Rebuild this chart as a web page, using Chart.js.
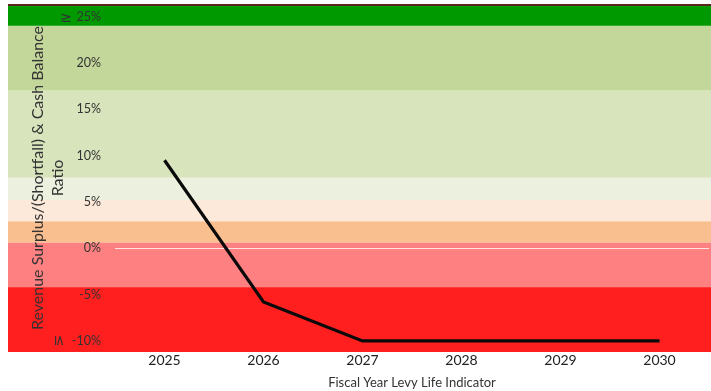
<!DOCTYPE html>
<html>
<head>
<meta charset="utf-8">
<script src="https://cdn.jsdelivr.net/npm/chart.js@4/dist/chart.umd.min.js"></script>
<style>
  html, body { margin: 0; padding: 0; background: #ffffff; }
  #wrap { width: 711px; height: 391px; }
</style>
</head>
<body>
<div id="wrap"><canvas id="c" width="711" height="391"></canvas></div>
<script>
// Fiscal years on the category axis
const years = ['2025', '2026', '2027', '2028', '2029', '2030'];
// Revenue surplus/(shortfall) & cash balance ratio, percent
const ratio = [9.5, -5.8, -10, -10, -10, -10];
// Tick values shown on the ratio axis
const yTicks = [25, 20, 15, 10, 5, 0, -5, -10];
// Rating bands: lower and upper bound (percent) with fill colour
const bandLow   = [26.14, 24.0, 17.0, 7.6, 5.2, 2.9, 0.6, -4.2, -11.2];
const bandHigh  = [26.36, 26.14, 24.0, 17.0, 7.6, 5.2, 2.9, 0.6, -4.2];
const bandColor = ['#5a261b', '#009a00', '#c4d79b', '#d8e4bc', '#ebf1de', '#fde9d9', '#fabf8f', '#ff8080', '#ff1f1f'];
const axisMin = -11.2;
const axisMax = 26.36;

const FONT = 'Lato, "Open Sans", "DejaVu Sans", sans-serif';

// Coloured bands run the full width behind the axis labels
const bandsPlugin = {
  id: 'bands',
  beforeDraw(chart) {
    const { ctx } = chart;
    const y = chart.scales.y;
    ctx.save();
    for (let i = 0; i < bandLow.length; i++) {
      const top = y.getPixelForValue(bandHigh[i]);
      const bot = y.getPixelForValue(bandLow[i]);
      ctx.fillStyle = bandColor[i];
      ctx.fillRect(8, top, chart.width - 8, bot - top);
    }
    ctx.restore();
  },
  afterDraw(chart) {
    // inequality markers beside the end ticks
    const { ctx } = chart;
    const y = chart.scales.y;
    ctx.save();
    ctx.fillStyle = '#333333';
    ctx.font = '14px "DejaVu Sans", sans-serif';
    ctx.textAlign = 'center';
    ctx.textBaseline = 'middle';
    ctx.fillText('\u2265', 66, y.getPixelForValue(yTicks[0]) + 2);
    ctx.translate(59, y.getPixelForValue(yTicks[yTicks.length - 1]));
    ctx.rotate(Math.PI / 2);
    ctx.fillText('\u2264', 0, 0);
    ctx.restore();
  }
};

new Chart(document.getElementById('c'), {
  type: 'line',
  data: {
    labels: years,
    datasets: [{
      data: ratio,
      borderColor: '#0a0a0a',
      borderWidth: 3.2,
      pointRadius: 0,
      pointHoverRadius: 0,
      tension: 0,
      fill: false
    }]
  },
  options: {
    responsive: false,
    animation: false,
    events: [],
    layout: { padding: { top: 4, right: 2, bottom: 0, left: 0 } },
    plugins: { legend: { display: false }, tooltip: { enabled: false } },
    scales: {
      x: {
        type: 'category',
        offset: true,
        border: { display: false },
        grid: { display: false, drawTicks: false },
        ticks: {
          color: '#222222',
          padding: 0,
          font: { family: FONT, size: 14 }
        },
        title: {
          display: true,
          text: 'Fiscal Year Levy Life Indicator',
          color: '#333333',
          font: { family: FONT, size: 13, lineHeight: 1.1 },
          padding: { top: 0, bottom: 1 }
        },
        afterFit(scale) {
          scale.height = 39;
          scale.paddingLeft = 0;
          scale.paddingRight = 0;
        }
      },
      y: {
        min: axisMin,
        max: axisMax,
        border: { display: false },
        grid: {
          drawTicks: false,
          lineWidth: 1,
          color: (c) => (c.tick && c.tick.value === 0 ? 'rgba(255,235,235,0.9)' : 'rgba(0,0,0,0)')
        },
        afterBuildTicks(scale) { scale.ticks = yTicks.map(v => ({ value: v })); },
        ticks: {
          color: '#333333',
          padding: 14,
          font: { family: FONT, size: 12.5 },
          callback: (v) => v + '%'
        },
        title: {
          display: true,
          text: ['Revenue Surplus/(Shortfall) & Cash Balance', 'Ratio'],
          color: '#333333',
          font: { family: FONT, size: 16, lineHeight: 1.25 },
          padding: { top: 28, bottom: 0 }
        },
        afterFit(scale) {
          scale.width = 115;
          scale.paddingTop = 0;
          scale.paddingBottom = 0;
        }
      }
    }
  },
  plugins: [bandsPlugin]
});
</script>
</body>
</html>
